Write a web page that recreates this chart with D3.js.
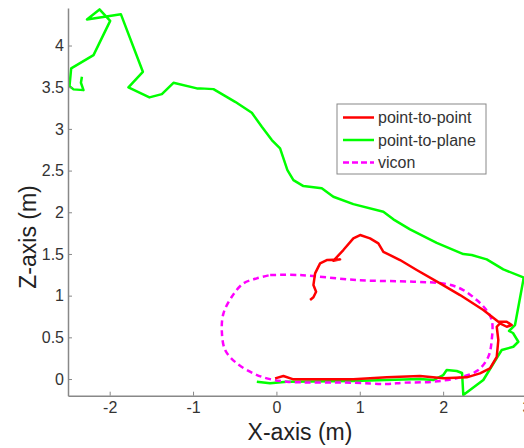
<!DOCTYPE html>
<html>
<head>
<meta charset="utf-8">
<script src="https://cdn.jsdelivr.net/npm/d3@7"></script>
<style>
body { margin: 0; background: #fff; }
svg { display: block; }
.tick text { font-family: Arial, "Liberation Sans", sans-serif; font-size: 16px; fill: #333; }
</style>
</head>
<body>
<script>
const w = 524;
const h = 448;
const padLeft = 68, padTop = 8, plotRight = 526.5, plotBottom = 395.7;

// point-to-plane trajectory [x, z]
const planeX = [-0.235,-0.076,0.125,0.923,1.723,1.882,2.002,2.043,2.163,2.227,2.242,2.482,2.643,2.703,2.842,2.902,2.838,2.790,2.862,2.962,2.962,
  2.722,2.523,2.343,2.242,1.923,1.603,1.403,1.283,0.923,0.683,0.544,0.324,0.204,0.132,0.044,-0.055,-0.175,-0.295,-0.495,-0.755,-0.915,-0.954,
  -1.235,-1.374,-1.523,-1.775,-1.602,-1.866,-2.273,-2.122,-1.994,-2.194,-2.462,-2.482,-2.434,-2.314,-2.345,-2.333];
const planeZ = [-0.032,-0.052,-0.032,-0.024,0.0,-0.012,0.048,0.108,0.096,0.072,-0.192,-0.012,0.252,0.348,0.387,0.447,0.552,0.576,0.647,1.187,1.219,
  1.315,1.435,1.487,1.499,1.634,1.795,1.915,2.006,2.098,2.186,2.287,2.314,2.386,2.506,2.766,2.866,3.025,3.193,3.325,3.477,3.486,3.486,
  3.553,3.417,3.378,3.498,3.685,4.376,4.313,4.433,4.296,3.885,3.725,3.513,3.474,3.465,3.553,3.625];

// point-to-point trajectory
const pointX = [0.404,0.444,0.476,0.444,0.464,0.524,0.604,0.764,0.683,0.803,0.923,1.004,1.123,1.223,1.283,1.483,1.683,1.963,2.203,2.482,
  2.662,2.763,2.823,2.763,2.682,2.643,2.662,2.643,2.562,2.442,2.283,2.002,1.723,1.324,0.923,0.204,0.084,-0.016];
const pointZ = [0.947,0.980,1.047,1.127,1.267,1.387,1.427,1.435,1.418,1.547,1.687,1.727,1.687,1.627,1.526,1.427,1.307,1.147,1.007,0.827,
  0.687,0.687,0.647,0.627,0.668,0.627,0.468,0.267,0.128,0.068,0.020,0.008,0.036,0.020,-0.004,-0.004,0.036,0.008];

// vicon ground truth
const viconX = [-0.075,0.284,0.964,1.643,2.043,2.242,2.403,2.502,2.583,2.583,2.542,2.422,2.203,1.882,1.523,1.324,0.923,0.125,-0.115,
  -0.276,-0.475,-0.615,-0.655,-0.635,-0.535,-0.396,-0.235,-0.075];
const viconZ = [1.247,1.247,1.187,1.167,1.139,1.067,0.947,0.848,0.707,0.468,0.267,0.108,0.020,-0.032,-0.044,-0.060,-0.044,-0.032,0.008,
  0.068,0.188,0.348,0.588,0.788,0.987,1.147,1.207,1.247];

const xTicks = [-2,-1,0,1,2,3];
const yTicks = [0,0.5,1,1.5,2,2.5,3,3.5,4];
const seriesNames = ["point-to-point","point-to-plane","vicon"];
const seriesColors = ["#ff0000","#00ff00","#ff00ff"];

const xScale = d3.scaleLinear().domain([-2.5, 3]).range([padLeft, plotRight]);
const yScale = d3.scaleLinear().domain([-0.2, 4.45]).range([plotBottom, padTop]);

const svg = d3.select("body").append("svg")
  .attr("width", w)
  .attr("height", h);

const zip = (xs, zs) => xs.map((x, i) => [x, zs[i]]);
const line = d3.line().x(d => xScale(d[0])).y(d => yScale(d[1]));
const smooth = d3.line().x(d => xScale(d[0])).y(d => yScale(d[1])).curve(d3.curveCatmullRom);

svg.append("path")
  .attr("d", line(zip(planeX, planeZ)))
  .attr("fill", "none").attr("stroke", seriesColors[1]).attr("stroke-width", 2.5)
  .attr("stroke-linejoin", "round");

svg.append("path")
  .attr("d", smooth(zip(viconX, viconZ)))
  .attr("fill", "none").attr("stroke", seriesColors[2]).attr("stroke-width", 2.5)
  .attr("stroke-dasharray", "6,4");

svg.append("path")
  .attr("d", line(zip(pointX, pointZ)))
  .attr("fill", "none").attr("stroke", seriesColors[0]).attr("stroke-width", 2.5)
  .attr("stroke-linejoin", "round");

// axes, ticks inward like matlab
const xAxis = d3.axisBottom(xScale).tickValues(xTicks).tickFormat(d => String(d))
  .tickSizeInner(-4).tickSizeOuter(0).tickPadding(6);
const yAxis = d3.axisLeft(yScale).tickValues(yTicks).tickFormat(d => String(d))
  .tickSizeInner(-4).tickSizeOuter(0).tickPadding(4);

const gx = svg.append("g").attr("transform", "translate(0," + plotBottom + ")").call(xAxis);
const gy = svg.append("g").attr("transform", "translate(" + padLeft + ",0)").call(yAxis);
[gx, gy].forEach(g => {
  g.select(".domain").attr("stroke", "#888").attr("stroke-width", 1.5);
  g.selectAll(".tick line").attr("stroke", "#888");
});

svg.append("text")
  .attr("x", 300).attr("y", 440)
  .attr("text-anchor", "middle")
  .style("font-family", "Arial, 'Liberation Sans', sans-serif").style("font-size", "23px").attr("fill", "#222")
  .text("X-axis (m)");

svg.append("text")
  .attr("transform", "translate(36,237) rotate(-90)")
  .attr("text-anchor", "middle")
  .style("font-family", "Arial, 'Liberation Sans', sans-serif").style("font-size", "23px").attr("fill", "#222")
  .text("Z-axis (m)");

// legend
const legend = svg.append("g").attr("transform", "translate(337,104)");
legend.append("rect").attr("width", 149).attr("height", 70)
  .attr("fill", "#fff").attr("stroke", "#888").attr("stroke-width", 1);
seriesNames.forEach((name, i) => {
  const y = 13.5 + i * 22.5;
  legend.append("line")
    .attr("x1", 6).attr("x2", 37).attr("y1", y).attr("y2", y)
    .attr("stroke", seriesColors[i]).attr("stroke-width", 2.5)
    .attr("stroke-dasharray", i === 2 ? "6,3" : null);
  legend.append("text")
    .attr("x", 41).attr("y", y + 5.5)
    .style("font-family", "Arial, 'Liberation Sans', sans-serif").style("font-size", "16px").attr("fill", "#333")
    .text(name);
});
</script>
</body>
</html>
